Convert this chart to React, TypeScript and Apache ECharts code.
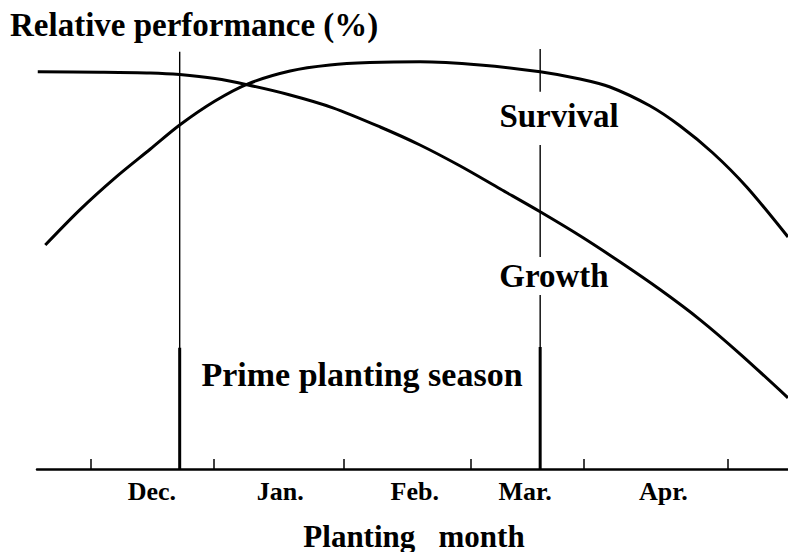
import React, { useEffect, useRef } from "react";
import * as echarts from "echarts";

// Planting month axis runs 0..100 (Nov. .. late Apr.), relative performance 0..105 %
const months = ["Dec.", "Jan.", "Feb.", "Mar.", "Apr."];
const monthLabelAt = [15.3, 32.4, 50.3, 65.0, 83.4];
const tickAt = [7.1, 23.6, 40.9, 57.7, 72.8, 92.0];

const survival: [number, number][] = [
  [1.1, 56], [5.7, 64.8], [10.4, 72.8], [15.1, 80], [19, 86], [23.7, 92],
  [28.1, 96.3], [33.7, 99.5], [39, 101], [44.3, 101.6], [51, 101.8], [59, 101],
  [67, 99.3], [72.3, 97.5], [76.3, 95.5], [81.6, 90.8], [85.6, 85.8], [90, 79],
  [94.5, 70.5], [100, 58],
];

const growth: [number, number][] = [
  [0.1, 99.3], [8.4, 99.2], [15.1, 99], [19, 98.6], [23.7, 97.6], [28.1, 96],
  [33.7, 93.5], [39.4, 90.3], [45.7, 85.5], [51, 81], [56.3, 75.8], [61.7, 70],
  [67, 64.3], [72.3, 58.3], [77.6, 51.8], [83, 44.8], [88.3, 37.3], [93.6, 28.8],
  [100, 17.8],
];

const seasonStart = 19.0;
const seasonEnd = 67.0;
const startThin: [number, number][] = [[104.3, 0]];
const startThick: [number, number][] = [[30.3, 0]];
const endThin: [number, number][] = [[105, 94.3], [81, 53], [43.5, 0]];
const endThick: [number, number][] = [[30.5, 0]];

const FONT = "'Liberation Serif', 'Times New Roman', serif";

function vline(x: number, seg: [number, number], width: number) {
  return {
    type: "line",
    data: [[x, seg[0]], [x, seg[1]]],
    symbol: "none",
    silent: true,
    lineStyle: { color: "#000", width },
    z: 1,
  };
}

function label(text: string, x: number, y: number, size: number, align = "center") {
  return {
    type: "text",
    x,
    y,
    style: {
      text,
      font: `bold ${size}px ${FONT}`,
      fill: "#000",
      textAlign: align,
      textVerticalAlign: "middle",
    },
  };
}

export default function App() {
  const ref = useRef<HTMLDivElement>(null);
  useEffect(() => {
    if (!ref.current) return;
    const chart = echarts.init(ref.current, null, { renderer: "svg" });
    chart.setOption({
      animation: false,
      backgroundColor: "#fff",
      grid: { left: 37, right: 0, top: 49, bottom: 83 },
      xAxis: {
        type: "value",
        min: 0,
        max: 100,
        axisLine: { show: true, onZero: false, lineStyle: { color: "#000", width: 2.5 } },
        axisTick: {
          show: true,
          inside: true,
          length: 10,
          customValues: tickAt,
          lineStyle: { color: "#000", width: 1.5 },
        },
        axisLabel: {
          customValues: monthLabelAt,
          margin: 9,
          color: "#000",
          fontFamily: FONT,
          fontWeight: "bold",
          fontSize: 26,
          formatter: (v: number) => {
            const i = monthLabelAt.findIndex((p) => Math.abs(p - v) < 0.01);
            return i >= 0 ? months[i] : "";
          },
        },
        splitLine: { show: false },
      },
      yAxis: {
        type: "value",
        min: 0,
        max: 105,
        show: false,
        splitLine: { show: false },
      },
      series: [
        {
          name: "Survival",
          type: "line",
          data: survival,
          smooth: 0.3,
          symbol: "none",
          lineStyle: { color: "#000", width: 3 },
          z: 3,
        },
        {
          name: "Growth",
          type: "line",
          data: growth,
          smooth: 0.3,
          symbol: "none",
          lineStyle: { color: "#000", width: 3 },
          z: 3,
        },
        ...startThin.map((s) => vline(seasonStart, s, 1.4)),
        ...startThick.map((s) => vline(seasonStart, s, 3)),
        ...endThin.map((s) => vline(seasonEnd, s, 1.4)),
        ...endThick.map((s) => vline(seasonEnd, s, 3)),
      ],
      graphic: [
        label("Relative performance (%)", 10, 24.5, 33, "left"),
        label("Survival", 559, 116, 33),
        label("Growth", 554, 276, 33),
        label("Prime planting season", 362, 374, 34),
        label("Planting   month", 414, 536, 31),
      ],
    });
    return () => chart.dispose();
  }, []);
  return (
    <div
      ref={ref}
      style={{ position: "absolute", left: 0, top: 0, width: 788, height: 552 }}
    />
  );
}
